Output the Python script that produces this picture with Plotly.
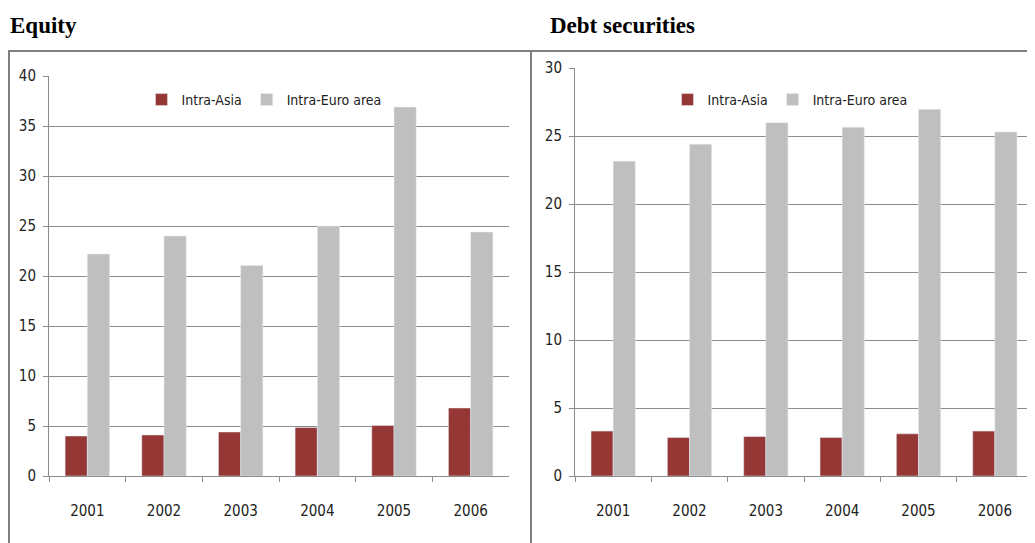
import plotly.graph_objects as go

years = ["2001", "2002", "2003", "2004", "2005", "2006"]
equity_asia = [4.0, 4.1, 4.4, 4.85, 5.05, 6.8]
equity_euro = [22.2, 24.0, 21.05, 25.0, 36.9, 24.4]
debt_asia = [3.3, 2.83, 2.9, 2.83, 3.1, 3.3]
debt_euro = [23.15, 24.4, 25.98, 25.64, 26.96, 25.3]

OFF = 8  # default page body margin
W, H = 1035 - OFF, 543 - OFF
ASIA = "#953735"
EURO = "#BFBFBF"
GRID = "#8C8C8C"
FONT = "DejaVu Sans Condensed, Liberation Sans Narrow, Arial Narrow, sans-serif"
SERIF = "Liberation Serif, Times New Roman, serif"

def px(x):
    return (x - OFF) / W

def py(y):
    return 1 - (y - OFF) / H

fig = go.Figure()
fig.add_trace(go.Bar(x=years, y=equity_asia, name="Intra-Asia", marker_color=ASIA,
                     xaxis="x", yaxis="y", legend="legend"))
fig.add_trace(go.Bar(x=years, y=equity_euro, name="Intra-Euro area", marker_color=EURO,
                     xaxis="x", yaxis="y", legend="legend"))
fig.add_trace(go.Bar(x=years, y=debt_asia, name="Intra-Asia", marker_color=ASIA,
                     xaxis="x2", yaxis="y2", legend="legend2"))
fig.add_trace(go.Bar(x=years, y=debt_euro, name="Intra-Euro area", marker_color=EURO,
                     xaxis="x2", yaxis="y2", legend="legend2"))

tickfont = dict(family=FONT, size=15, color="#222")
xcommon = dict(showline=True, linecolor=GRID, linewidth=1, ticks="outside", tickson="boundaries",
               ticklen=5, tickcolor=GRID, showgrid=False, automargin=False,
               tickfont=tickfont, ticklabelstandoff=21)
ycommon = dict(showline=True, linecolor=GRID, linewidth=1, ticks="outside", ticklen=5,
               tickcolor=GRID, showgrid=True, gridcolor=GRID, gridwidth=1, automargin=False,
               zeroline=False, tickfont=tickfont, ticklabelstandoff=4)

legcommon = dict(orientation="h", xanchor="center", yanchor="middle",
                 font=dict(family=FONT, size=14, color="#222"), bgcolor="rgba(0,0,0,0)",
                 traceorder="normal", itemwidth=30)

fig.update_layout(
    width=W, height=H,
    margin=dict(l=0, r=0, t=0, b=0),
    paper_bgcolor="white", plot_bgcolor="white",
    barmode="group", bargap=0.42, bargroupgap=0,
    xaxis=dict(domain=[px(49), px(509)], anchor="y", **xcommon),
    yaxis=dict(domain=[py(476), py(76)], anchor="x", range=[0, 40], dtick=5, **ycommon),
    xaxis2=dict(domain=[px(575), px(1033)], anchor="y2", **xcommon),
    yaxis2=dict(domain=[py(476), py(68)], anchor="x2", range=[0, 30], dtick=5, **ycommon),
    legend=dict(x=px(264), y=py(100), **legcommon),
    legend2=dict(x=px(790), y=py(100), **legcommon),
    annotations=[
        dict(text="<b>Equity</b>", x=px(8), y=py(26), xref="paper", yref="paper",
             xanchor="left", yanchor="middle", showarrow=False,
             font=dict(family=SERIF, size=23, color="black")),
        dict(text="<b>Debt securities</b>", x=px(548), y=py(26), xref="paper", yref="paper",
             xanchor="left", yanchor="middle", showarrow=False,
             font=dict(family=SERIF, size=23, color="black")),
    ],
    shapes=[
        dict(type="rect", xref="paper", yref="paper", x0=px(9), x1=px(531), y0=py(560), y1=py(51),
             line=dict(color="#7F7F7F", width=2)),
        dict(type="rect", xref="paper", yref="paper", x0=px(531), x1=px(1045), y0=py(560), y1=py(51),
             line=dict(color="#7F7F7F", width=2)),
    ],
    showlegend=True,
)

fig.write_html("out.html")
